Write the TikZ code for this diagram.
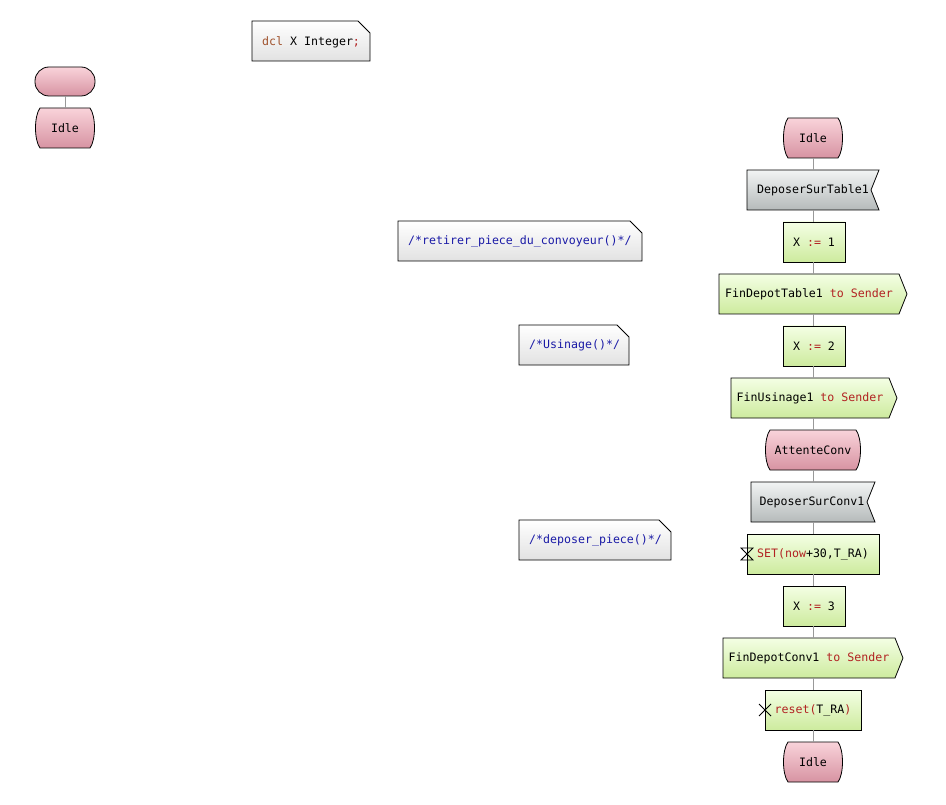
\documentclass[tikz,border=0pt]{standalone}
\usepackage{fontspec}
\setmonofont{DejaVu Sans Mono}
\usetikzlibrary{backgrounds}
\definecolor{kw}{HTML}{B22222}
\definecolor{dclc}{HTML}{A0522D}
\definecolor{cmt}{HTML}{1A1AA6}
\definecolor{lnc}{HTML}{999999}
\definecolor{sttop}{HTML}{F9D3DA}
\definecolor{stbot}{HTML}{D793A2}
\definecolor{tktop}{HTML}{F4FFE4}
\definecolor{tkbot}{HTML}{CDEB9E}
\definecolor{sgtop}{HTML}{F2F4F4}
\definecolor{sgbot}{HTML}{B5BABA}
\definecolor{ntbot}{HTML}{E2E2E2}
\tikzset{
  lbl/.style={font=\ttfamily\fontsize{11.6}{13}\selectfont, inner sep=0pt, text=black},
  conn/.style={draw=lnc, line width=0.8pt},
  outl/.style={draw=black, line width=0.8pt},
  stfill/.style={outl, top color=sttop, bottom color=stbot},
  sgfill/.style={outl, top color=sgtop, bottom color=sgbot},
  tkfill/.style={outl, top color=tktop, bottom color=tkbot},
  ntfill/.style={outl, top color=white, bottom color=ntbot},
}
\newcommand\statebg[4]{% x1 y1 x2 y2
  \path[stfill] (#1+5,#2) -- (#3-5,#2) .. controls (#3+1,#2+8) and (#3+1,#4-8) .. (#3-5,#4)
    -- (#1+5,#4) .. controls (#1-1,#4-8) and (#1-1,#2+8) .. (#1+5,#2) -- cycle;}
\newcommand\inputbg[4]{%
  \path[sgfill] (#1,#2) -- (#3,#2) -- (#3-8,{(#2+#4)/2}) -- (#3,#4) -- (#1,#4) -- cycle;}
\newcommand\outputbg[4]{%
  \path[tkfill] (#1,#2) -- (#3-8,#2) -- (#3,{(#2+#4)/2}) -- (#3-8,#4) -- (#1,#4) -- cycle;}
\newcommand\taskbg[4]{%
  \path[tkfill] (#1,#2) rectangle (#3,#4);}
\newcommand\notebg[4]{%
  \path[ntfill] (#1,#2) -- (#3-12,#2) -- (#3,#2+12) -- (#3,#4) -- (#1,#4) -- cycle;}
\begin{document}
\begin{tikzpicture}[x=1pt,y=-1pt]
\useasboundingbox (0,0) rectangle (946,805);
% ---------- backgrounds (shapes)
\notebg{252}{21}{370}{61}
\path[stfill, rounded corners=14pt] (35,67) rectangle (95,96);
\statebg{35}{108}{95}{148}
\statebg{783}{118}{843}{158}
\inputbg{747}{170}{879}{210}
\taskbg{783}{222}{845}{262}
\outputbg{719}{274}{907}{314}
\taskbg{783}{326}{845}{366}
\outputbg{731}{378}{897}{418}
\statebg{765}{430}{861}{470}
\inputbg{751}{482}{875}{522}
\taskbg{747}{534}{879}{574}
\taskbg{783}{586}{845}{626}
\outputbg{723}{638}{903}{678}
\taskbg{765}{690}{861}{730}
\statebg{783}{742}{843}{782}
\notebg{398}{221}{642}{261}
\notebg{519}{325}{629}{365}
\notebg{519}{520}{671}{560}
% timer icons
\draw[line width=0.8pt] (741,548) -- (753,548) -- (741,560) -- (753,560) -- cycle;
\draw[line width=0.8pt] (759,704) -- (771,716) (759,716) -- (771,704);
% ---------- nodes (text)
\node[lbl, anchor=west] (dcl) at (262,42) {\textcolor{dclc}{dcl} X Integer\textcolor{kw}{;}};
\node[inner sep=0pt, minimum width=60pt, minimum height=29pt] (start) at (65,81.5) {};
\node[lbl, minimum width=60pt, minimum height=40pt] (idle0) at (65,128) {Idle};
\node[lbl, minimum width=60pt, minimum height=40pt] (idle1) at (813,138) {Idle};
\node[lbl, minimum width=132pt, minimum height=40pt] (dep1) at (813,190) {DeposerSurTable1};
\node[lbl, minimum width=62pt, minimum height=40pt] (x1) at (814,242) {X \textcolor{kw}{:=} 1};
\node[lbl, minimum width=180pt, minimum height=40pt] (fin1) at (809,294) {FinDepotTable1 \textcolor{kw}{to Sender}};
\node[lbl, minimum width=62pt, minimum height=40pt] (x2) at (814,346) {X \textcolor{kw}{:=} 2};
\node[lbl, minimum width=158pt, minimum height=40pt] (fin2) at (810,398) {FinUsinage1 \textcolor{kw}{to Sender}};
\node[lbl, minimum width=96pt, minimum height=40pt] (att) at (813,450) {AttenteConv};
\node[lbl, minimum width=124pt, minimum height=40pt] (dep2) at (812,502) {DeposerSurConv1};
\node[lbl, minimum width=132pt, minimum height=40pt] (set) at (813,554) {\textcolor{kw}{SET(now}+30,T\_RA)};
\node[lbl, minimum width=62pt, minimum height=40pt] (x3) at (814,606) {X \textcolor{kw}{:=} 3};
\node[lbl, minimum width=172pt, minimum height=40pt] (fin3) at (809,658) {FinDepotConv1 \textcolor{kw}{to Sender}};
\node[lbl, minimum width=96pt, minimum height=40pt] (reset) at (813,710) {\textcolor{kw}{reset(}T\_RA\textcolor{kw}{)}};
\node[lbl, minimum width=60pt, minimum height=40pt] (idle2) at (813,762) {Idle};
\node[lbl, anchor=west, text=cmt] (c1) at (408,241) {/*retirer\_piece\_du\_convoyeur()*/};
\node[lbl, anchor=west, text=cmt] (c2) at (529,345) {/*Usinage()*/};
\node[lbl, anchor=west, text=cmt] (c3) at (529,540) {/*deposer\_piece()*/};
% ---------- connectors
\draw[conn] (start.south) -- (idle0.north);
\foreach \a/\b in {idle1/dep1, dep1/x1, x1/fin1, fin1/x2, x2/fin2, fin2/att, att/dep2, dep2/set, set/x3, x3/fin3, fin3/reset, reset/idle2}
  \draw[conn] (idle1.south |- \a.south) -- (idle1.south |- \b.north);
\end{tikzpicture}
\end{document}
